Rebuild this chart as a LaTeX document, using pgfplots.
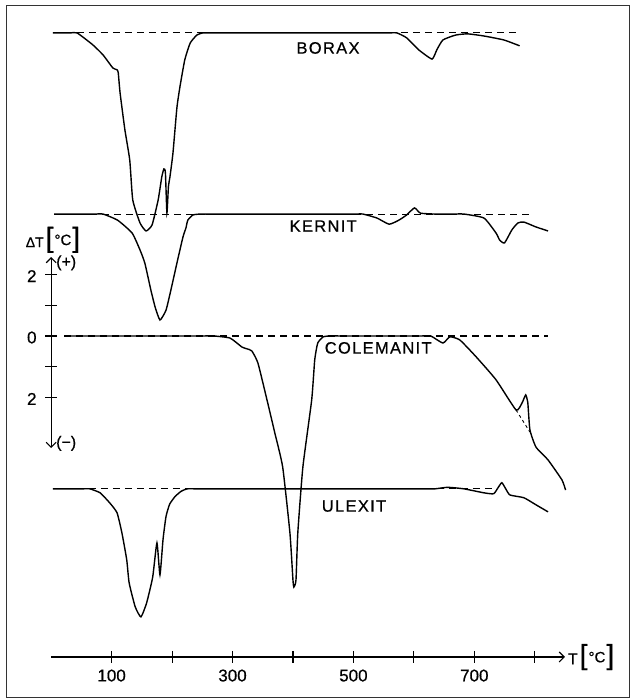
\documentclass[border=0pt]{standalone}
\usepackage{fontspec}
\setmainfont{Liberation Sans}[FakeBold=0.6]
\newfontfamily\labfont{Liberation Sans}[LetterSpace=8,FakeBold=0.6]
\usepackage{pgfplots}
\pgfplotsset{compat=1.18}
\usepackage{pgfplotstable}
\usetikzlibrary{arrows.meta}

\pgfplotstableread{
T d
3 0
20 0
32 0
43 0
69 -0.39
86 -0.72
102 -1.14
109 -1.20
111 -1.30
114 -1.95
122 -3.16
130 -4.14
135 -5.44
147 -6.19
157 -6.45
167 -6.25
177 -5.44
183 -4.69
186.5 -4.43
189 -4.55
191.5 -5.86
194 -5.0
196.5 -4.69
201.5 -3.91
208 -2.44
213 -1.76
221 -0.88
230 -0.33
241 -0.07
251 0
263 0
276 0
545 0
558 0
572 0
588 -0.16
608 -0.55
630 -0.85
638 -0.55
648 -0.23
669 -0.07
689 -0.03
716 -0.10
749 -0.23
775 -0.42
}\borax

\pgfplotstableread{
T d
5 0
60 0
73 0
86 0
110 -0.2
134 -0.62
147 -1.17
155 -1.6
165 -2.48
172 -3.03
180 -3.45
190 -3.13
198 -2.48
208 -1.6
218 -0.75
223 -0.45
226 -0.2
234.5 -0.03
246 0
260 0
275 0
490 0
503 0
516 0
539 -0.13
559 -0.33
575 -0.2
588 -0.03
601 0.2
611 0.03
635 0
650 0
665 0
683 0
716 -0.13
736 -0.62
742 -0.85
750 -0.94
762 -0.52
772 -0.29
782 -0.26
802 -0.42
822 -0.55
}\kernit

\pgfplotstableread{
T d
22 0
240 0
255 0
269 0
296 -0.07
315.5 -0.36
324 -0.42
332 -0.49
342 -0.88
357 -2.08
370 -3.16
383 -4.27
395 -6.42
400 -7.95
401.5 -8.18
405 -7.95
408 -6.42
416.4 -4.27
431 -2.08
436 -0.78
441 -0.23
450 -0.03
461 0
475 0
490 0
600 0
614 0
628 0
648 -0.23
659.5 -0.03
676 -0.13
703 -0.68
736 -1.43
769 -2.41
779 -2.18
785 -1.92
788.5 -2.18
792 -3.06
802 -3.62
822 -4.04
845 -4.69
851 -5.02
}\colemanit

\pgfplotstableread{
T d
3 0
40 0
52 0
64 0
81 -0.13
97 -0.46
109 -0.78
117 -1.43
125 -2.31
129 -3.06
139 -3.84
148.5 -4.17
158 -3.71
168 -2.87
175 -1.76
180 -2.8
185 -1.66
190 -0.9
196 -0.5
205 -0.25
215 -0.08
225 0
240 0
255 0
605 0
620 0
635 0
656 0.05
683 0
716 -0.13
732 -0.16
739 0.03
745.5 0.2
752 0
759 -0.2
782 -0.29
802 -0.52
822 -0.75
}\ulexit

\newcommand{\unitlab}[2]{{\fontsize{#1}{#1}\selectfont #2}\kern2pt{\fontsize{28}{28}\selectfont[}\kern1pt\raisebox{2pt}{\fontsize{15}{15}\selectfont °C}\kern1pt{\fontsize{28}{28}\selectfont]}}

\begin{document}
\begin{tikzpicture}
\begin{axis}[
  scale only axis, width=623pt, height=692pt,
  xmin=-74.7, xmax=955.9, ymin=-11.76, ymax=10.78,
  ticks=none, clip=false,
  axis line style={line width=0.7pt, black!80},
]
% dashed baselines
\addplot[black, line width=1.1pt, dash pattern=on 7pt off 5pt] coordinates {(3,9.87) (775,9.87)};
\addplot[black, line width=1.1pt, dash pattern=on 7pt off 5pt] coordinates {(5,3.97) (798,3.97)};
\addplot[black, line width=1.1pt, dash pattern=on 7pt off 5pt] coordinates {(22,0) (822,0)};
\addplot[black, line width=1.1pt, dash pattern=on 7pt off 5pt] coordinates {(3,-4.98) (740,-4.98)};
\addplot[black, line width=0.9pt, dash pattern=on 3pt off 3pt] coordinates {(769,-2.41) (792,-3.13)};
% curves
\addplot[black, line width=1.4pt, smooth, tension=0.3] table[x=T, y expr=\thisrow{d}+9.87] {\borax};
\addplot[black, line width=1.4pt, smooth, tension=0.3] table[x=T, y expr=\thisrow{d}+3.97] {\kernit};
\addplot[black, line width=1.4pt, smooth, tension=0.3] table[x=T, y expr=\thisrow{d}] {\colemanit};
\addplot[black, line width=1.4pt, smooth, tension=0.3] table[x=T, y expr=\thisrow{d}-4.98] {\ulexit};

% curve labels
\node[font=\labfont\fontsize{16.5}{18}\selectfont] at (axis cs:458,9.38) {BORAX};
\node[font=\labfont\fontsize{16.5}{18}\selectfont] at (axis cs:450,3.58) {KERNIT};
\node[font=\labfont\fontsize{16.5}{18}\selectfont] at (axis cs:541,-0.39) {COLEMANIT};
\node[font=\labfont\fontsize{16.5}{18}\selectfont] at (axis cs:501,-5.54) {ULEXIT};

% T axis
\draw[line width=1.1pt, -{Straight Barb[length=5pt,width=10pt,line width=1.1pt]}] (axis cs:0,-10.456) -- (axis cs:850,-10.456);
\draw[line width=1.1pt]
  (axis cs:100,-10.26) -- (axis cs:100,-10.66)
  (axis cs:200,-10.26) -- (axis cs:200,-10.66)
  (axis cs:300,-10.26) -- (axis cs:300,-10.66)
  (axis cs:400,-10.26) -- (axis cs:400,-10.66)
  (axis cs:500,-10.26) -- (axis cs:500,-10.66)
  (axis cs:600,-10.26) -- (axis cs:600,-10.66)
  (axis cs:700,-10.26) -- (axis cs:700,-10.66)
  (axis cs:800,-10.26) -- (axis cs:800,-10.66);
\node[font=\fontsize{17}{18}\selectfont, anchor=north] at (axis cs:100,-10.75) {100};
\node[font=\fontsize{17}{18}\selectfont, anchor=north] at (axis cs:300,-10.75) {300};
\node[font=\fontsize{17}{18}\selectfont, anchor=north] at (axis cs:500,-10.75) {500};
\node[font=\fontsize{17}{18}\selectfont, anchor=north] at (axis cs:700,-10.75) {700};
\node[anchor=west, inner sep=1pt] at (axis cs:853,-10.46) {\unitlab{16}{T}};

% Delta T axis
\draw[line width=1.1pt, {Straight Barb[length=5pt,width=10pt,line width=1.1pt]}-{Straight Barb[length=5pt,width=10pt,line width=1.1pt]}] (axis cs:0,-3.65) -- (axis cs:0,2.57);
\draw[line width=1.1pt]
  (axis cs:-10,2) -- (axis cs:10,2)
  (axis cs:-10,1) -- (axis cs:10,1)
  (axis cs:-10,0) -- (axis cs:10,0)
  (axis cs:-10,-1) -- (axis cs:10,-1)
  (axis cs:-10,-2) -- (axis cs:10,-2);
\node[font=\fontsize{17}{18}\selectfont] at (axis cs:-32,1.95) {2};
\node[font=\fontsize{17}{18}\selectfont] at (axis cs:-32,-0.05) {0};
\node[font=\fontsize{17}{18}\selectfont] at (axis cs:-32,-2.05) {2};
\node[font=\fontsize{16}{16}\selectfont, anchor=west, inner sep=0pt] at (axis cs:8,2.38) {(+)};
\node[font=\fontsize{16}{16}\selectfont, anchor=west, inner sep=0pt] at (axis cs:8,-3.5) {(−)};
\node[inner sep=0pt] at (axis cs:3,3.13) {\unitlab{14}{ΔT}};
\end{axis}
\path (current axis.south west) +(-6pt,-2pt) (current axis.north east) +(3pt,5pt);
\end{tikzpicture}
\end{document}
